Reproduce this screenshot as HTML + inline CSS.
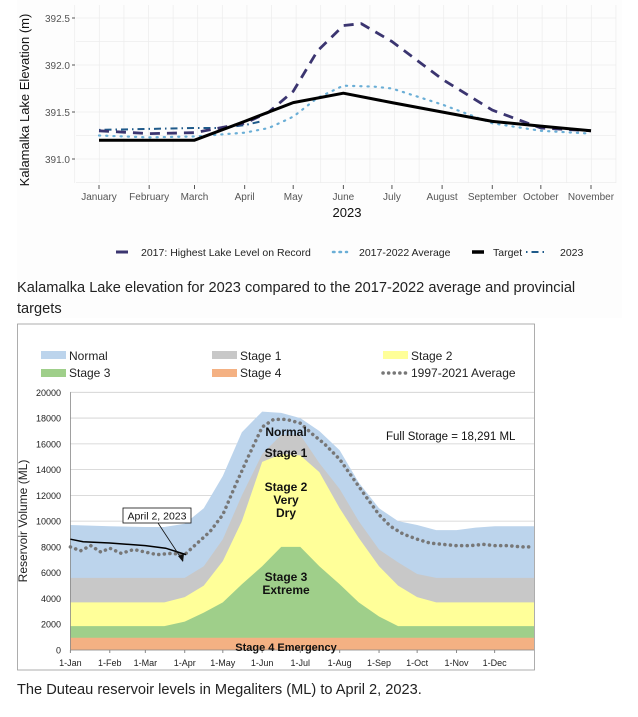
<!DOCTYPE html>
<html><head><meta charset="utf-8"><style>
body{margin:0;background:#fff;width:638px;height:717px;overflow:hidden;font-family:"Liberation Sans",sans-serif;}
.cap{position:absolute;left:17px;font-size:14.6px;color:#222;line-height:21px;}
</style></head><body>
<svg id="top" width="638" height="320" style="position:absolute;left:0;top:0">
<rect x="17" y="0" width="605" height="318" fill="#fdfdfd"/>
<g id="tg"></g>
<text x="29" y="100" transform="rotate(-90 29 100)" font-size="13" text-anchor="middle" fill="#111">Kalamalka Lake Elevation (m)</text>
<text x="347" y="217" font-size="13" text-anchor="middle" fill="#111">2023</text>
<g font-size="10.5" fill="#222">
<line x1="116" y1="252" x2="128" y2="252" stroke="#3b3570" stroke-width="3"/>
<text x="141" y="256">2017: Highest Lake Level on Record</text>
<line x1="333" y1="252" x2="347" y2="252" stroke="#6aaed6" stroke-width="2.5" stroke-dasharray="1.5 5" stroke-linecap="round"/>
<text x="359" y="256">2017-2022 Average</text>
<line x1="472" y1="252" x2="484" y2="252" stroke="#000" stroke-width="3.5"/>
<text x="493" y="256">Target</text>
<line x1="526" y1="252" x2="548" y2="252" stroke="#1f5a8a" stroke-width="2" stroke-dasharray="1.5 4 7 4"/>
<text x="560" y="256">2023</text>
</g>
</svg>
<div class="cap" style="top:278px">Kalamalka Lake elevation for 2023 compared to the 2017-2022 average and provincial<br>targets</div>

<svg id="bot" width="638" height="397" style="position:absolute;left:0;top:320px">
<rect x="17.5" y="4" width="517" height="346" fill="#fff" stroke="#999" stroke-width="0.8"/>
<g id="bg"></g>
<g font-size="12" fill="#222">
<rect x="41" y="31" width="25" height="8" fill="#bcd4ec"/><text x="69" y="40">Normal</text>
<rect x="212" y="31" width="25" height="8" fill="#c8c8c8"/><text x="240" y="40">Stage 1</text>
<rect x="383" y="31" width="25" height="8" fill="#ffff99"/><text x="411" y="40">Stage 2</text>
<rect x="41" y="49" width="25" height="8" fill="#9fcf8a"/><text x="69" y="57">Stage 3</text>
<rect x="212" y="49" width="25" height="8" fill="#f4b183"/><text x="240" y="57">Stage 4</text>
<line x1="383" y1="53" x2="408" y2="53" stroke="#777" stroke-width="3.5" stroke-dasharray="0.1 5.5" stroke-linecap="round"/><text x="411" y="57">1997-2021 Average</text>
</g>
<text x="27" y="201" transform="rotate(-90 27 201)" font-size="12" text-anchor="middle" fill="#222">Reservoir Volume (ML)</text>
</svg>
<div class="cap" style="top:680px">The Duteau reservoir levels in Megaliters (ML) to April 2, 2023.</div>

<script>
// ---- Top chart data ----
const monthLabels=["January","February","March","April","May","June","July","August","September","October","November"];
const monthDays=[0,31,59,90,120,151,181,212,243,273,304];
const yTicks=[391.0,391.5,392.0,392.5];
const targetDays=[0,59,90,120,151,181,212,243,273,304];
const targetVals=[391.2,391.2,391.4,391.6,391.7,391.6,391.5,391.4,391.35,391.3];
const rec2017Days=[0,31,59,90,105,120,135,151,162,181,212,243,273,304];
const rec2017Vals=[391.30,391.27,391.28,391.38,391.5,391.72,392.15,392.42,392.44,392.25,391.85,391.52,391.33,391.30];
const avgDays=[0,31,59,90,105,120,135,151,170,181,212,243,273,304];
const avgVals=[391.25,391.23,391.24,391.28,391.33,391.45,391.65,391.78,391.77,391.75,391.58,391.38,391.30,391.27];
const y2023Days=[0,31,59,75,90,100];
const y2023Vals=[391.31,391.32,391.33,391.33,391.36,391.40];

const NS="http://www.w3.org/2000/svg";
function mk(p,t,a){const e=document.createElementNS(NS,t);for(const k in a)e.setAttribute(k,a[k]);p.appendChild(e);return e;}
const tx=d=>99+d*492/304, ty=v=>159-(v-391)*94;
const tg=document.getElementById('tg');
for(let d=-15;d<=320;d+=15.2){const l=mk(tg,'line',{x1:tx(d),x2:tx(d),y1:5,y2:183,stroke:'#ececec','stroke-width':0.7});

}
for(let v=390.75;v<=392.6;v+=0.25){const l=mk(tg,'line',{x1:76,x2:616,y1:ty(v),y2:ty(v),stroke:'#ececec','stroke-width':0.8});

}
yTicks.forEach(v=>{const t=mk(tg,'text',{x:70,y:ty(v)+4,'font-size':10,'text-anchor':'end',fill:'#555'});t.textContent=v.toFixed(1);


mk(tg,'line',{x1:72,x2:75,y1:ty(v),y2:ty(v),stroke:'#555'});});
monthLabels.forEach((m,i)=>{const t=mk(tg,'text',{x:tx(monthDays[i]),y:200,'font-size':10,'text-anchor':'middle',fill:'#555'});t.textContent=m;


mk(tg,'line',{x1:tx(monthDays[i]),x2:tx(monthDays[i]),y1:185,y2:189,stroke:'#555'});});
function tline(ds,vs,attrs,name){const p=mk(tg,'polyline',Object.assign({points:ds.map((d,i)=>tx(d)+','+ty(vs[i])).join(' '),fill:'none','stroke-linejoin':'round'},attrs));

}
tline(avgDays,avgVals,{stroke:'#6aaed6','stroke-width':2.2,'stroke-dasharray':'1.2 6','stroke-linecap':'round'},'average-line');
tline(y2023Days,y2023Vals,{stroke:'#1f5a8a','stroke-width':2,'stroke-dasharray':'1.5 4 7 4'},'line-2023');
tline(rec2017Days,rec2017Vals,{stroke:'#3b3570','stroke-width':2.8,'stroke-dasharray':'10 7'},'record-2017-line');
tline(targetDays,targetVals,{stroke:'#000','stroke-width':3},'target-line');

// ---- Bottom chart data ----
const bDays=[0,31,59,74,90,105,120,135,151,166,181,196,212,227,243,258,273,288,304,319,334,364];
const stage4Top=[950,950,950,950,950,950,950,950,950,950,950,950,950,950,950,950,950,950,950,950,950,950];
const stage3Top=[1850,1850,1850,1850,2200,2900,3700,5100,6500,8000,8000,6500,5100,3700,2600,1850,1850,1850,1850,1850,1850,1850];
const stage2Top=[3700,3700,3700,3700,4100,5000,6900,10000,14600,15200,15100,13800,11000,8700,6500,5000,4100,3700,3700,3700,3700,3700];
const stage1Top=[5600,5600,5600,5600,5600,6500,8600,12000,15200,16700,16700,14500,12500,10000,7800,6800,5900,5600,5600,5600,5600,5600];
const normalTop=[9700,9600,9550,9550,9800,11000,13500,16900,18500,18400,18000,17000,15500,13000,11000,10000,9700,9300,9300,9500,9600,9600];
const avgResDays=[0,8,16,24,31,40,50,59,68,80,90,100,110,120,130,140,151,160,170,181,190,200,212,222,232,243,252,262,273,283,293,304,315,325,334,345,355,364];
const avgResVals=[8000,7700,8100,7600,7900,7500,7800,7600,7400,7500,7400,8300,9200,10500,12800,15000,17300,17900,17900,17600,16800,16000,14800,13400,12000,10500,9600,9000,8600,8300,8200,8100,8100,8200,8100,8100,8000,8000];
const cur2023Days=[0,10,31,59,75,91];
const cur2023Vals=[8600,8400,8300,8100,7900,7400];
const bTicks=[0,2000,4000,6000,8000,10000,12000,14000,16000,18000,20000];
const bMonthLabels=["1-Jan","1-Feb","1-Mar","1-Apr","1-May","1-Jun","1-Jul","1-Aug","1-Sep","1-Oct","1-Nov","1-Dec"];
const bMonthDays=[0,31,59,90,120,151,181,212,243,273,304,334];

const bx=d=>70.4+d*463.6/365, by=v=>330-v*0.012885;
const bg=document.getElementById('bg');
bTicks.forEach(v=>{const l=mk(bg,'line',{x1:70,x2:534,y1:by(v),y2:by(v),stroke:'#cfcfcf','stroke-width':0.8});


const t=mk(bg,'text',{x:61,y:by(v)+3.5,'font-size':9,'text-anchor':'end',fill:'#222'});t.textContent=v;

});
function band(top,fill,name){const pts=bDays.map((d,i)=>bx(d)+','+by(top[i]));pts.push(bx(365)+','+by(top[top.length-1]));pts.push(bx(365)+','+by(0));pts.push(bx(0)+','+by(0));
const p=mk(bg,'polygon',{points:pts.join(' '),fill:fill});

}
band(normalTop,'#bcd4ec','normal-band');
band(stage1Top,'#c8c8c8','stage1-band');
band(stage2Top,'#ffff99','stage2-band');
band(stage3Top,'#9fcf8a','stage3-band');
band(stage4Top,'#f4b183','stage4-band');
mk(bg,'line',{x1:70.4,x2:70.4,y1:by(20000),y2:by(0),stroke:'#888','stroke-width':0.8});
mk(bg,'line',{x1:70.4,x2:534,y1:by(0),y2:by(0),stroke:'#888','stroke-width':0.8});
bMonthLabels.forEach((m,i)=>{const t=mk(bg,'text',{x:bx(bMonthDays[i]),y:346,'font-size':9,'text-anchor':'middle',fill:'#222'});t.textContent=m;


mk(bg,'line',{x1:bx(bMonthDays[i]),x2:bx(bMonthDays[i]),y1:by(0),y2:by(0)+3,stroke:'#888'});});
const ap=mk(bg,'polyline',{points:avgResDays.map((d,i)=>bx(d)+','+by(avgResVals[i])).join(' '),fill:'none',stroke:'#777','stroke-width':3.5,'stroke-dasharray':'0.1 5.5','stroke-linecap':'round'});


const cp=mk(bg,'polyline',{points:cur2023Days.map((d,i)=>bx(d)+','+by(cur2023Vals[i])).join(' '),fill:'none',stroke:'#000','stroke-width':1.5});


const lbl=[["Normal",286,112,12],["Stage 1",286,133,12],["Stage 2",286,167,12],["Very",286,180,12],["Dry",286,193,12],["Stage 3",286,257,12],["Extreme",286,270,12],["Stage 4 Emergency",286,327,11]];
lbl.forEach(a=>{const t=mk(bg,'text',{x:a[1],y:a[2]+4,'font-size':a[3],'font-weight':'bold','text-anchor':'middle',fill:'#111'});t.textContent=a[0];

});
const fs=mk(bg,'text',{x:386,y:120,'font-size':11.5,fill:'#111'});fs.textContent="Full Storage  = 18,291 ML";


mk(bg,'line',{x1:158,x2:183,y1:203,y2:241,stroke:'#111','stroke-width':0.8});
mk(bg,'polygon',{points:'183,242 178,236 184,234',fill:'#111'});
const bx2=mk(bg,'rect',{x:123,y:188,width:68,height:15,fill:'#fff',stroke:'#111','stroke-width':0.8});


const ct=mk(bg,'text',{x:157,y:199.5,'font-size':10.5,'text-anchor':'middle',fill:'#111'});ct.textContent="April 2, 2023";


</script>
</body></html>
